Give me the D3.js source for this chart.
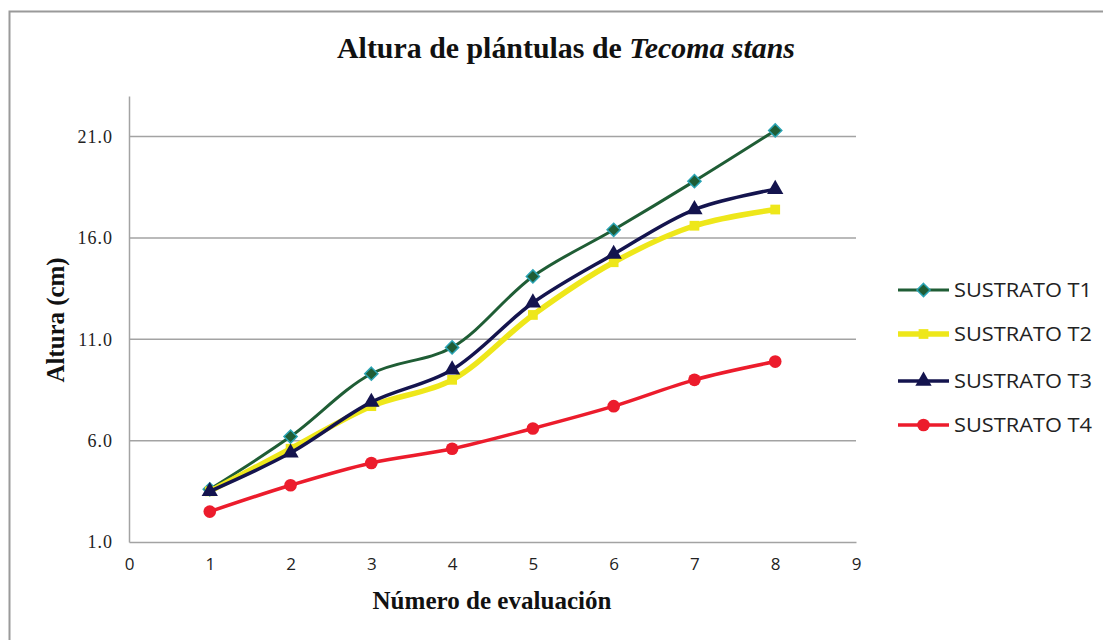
<!DOCTYPE html>
<html lang="es">
<head>
<meta charset="utf-8">
<script src="https://cdn.jsdelivr.net/npm/d3@7"></script>
<style>
  html, body { margin: 0; padding: 0; background: #fff; }
  svg { display: block; }
</style>
</head>
<body>
<svg id="chart" width="1103" height="640"></svg>
<script>
// Evaluation numbers (x) and heights per substrate (cm)
const evaluaciones = [1, 2, 3, 4, 5, 6, 7, 8];
const sustratoT1 = [3.6, 6.2, 9.3, 10.6, 14.1, 16.4, 18.8, 21.3];
const sustratoT2 = [3.5, 5.6, 7.7, 9.0, 12.2, 14.8, 16.6, 17.4];
const sustratoT3 = [3.5, 5.4, 7.9, 9.5, 12.8, 15.2, 17.4, 18.4];
const sustratoT4 = [2.5, 3.8, 4.9, 5.6, 6.6, 7.7, 9.0, 9.9];
const seriesNames = ["SUSTRATO T1", "SUSTRATO T2", "SUSTRATO T3", "SUSTRATO T4"];
const yTicks = [1, 6, 11, 16, 21];
const xTicks = [0, 1, 2, 3, 4, 5, 6, 7, 8, 9];

const series = [
  { name: seriesNames[0], values: sustratoT1, color: "#1f5d35", width: 3, marker: "diamond", fill: "#1f5d35", stroke: "#2aa3b3" },
  { name: seriesNames[1], values: sustratoT2, color: "#eee71a", width: 5.5, marker: "square", fill: "#eee71a", stroke: "none" },
  { name: seriesNames[2], values: sustratoT3, color: "#14144e", width: 3.5, marker: "triangle", fill: "#14144e", stroke: "none" },
  { name: seriesNames[3], values: sustratoT4, color: "#ec1c2c", width: 3.5, marker: "circle", fill: "#ec1c2c", stroke: "none" }
];

const svg = d3.select("#chart");
const serif = "'Liberation Serif', 'Times New Roman', serif";
const sans = "'Open Sans', 'Noto Sans', sans-serif";
const gridColor = "#a3a3a3";

// Outer chart frame
svg.append("rect")
  .attr("x", 9.5).attr("y", 11.5)
  .attr("width", 1120).attr("height", 660)
  .attr("fill", "none").attr("stroke", "#9a9a9a").attr("stroke-width", 2);

const x = d3.scaleLinear().domain([0, 9]).range([129, 856]);
const y = d3.scaleLinear().domain([1, 23]).range([542, 96]);

// Horizontal gridlines
svg.append("g")
  .selectAll("line")
  .data(yTicks.filter(d => d > 1))
  .join("line")
  .attr("x1", x(0)).attr("x2", x(9))
  .attr("y1", d => y(d)).attr("y2", d => y(d))
  .attr("stroke", gridColor).attr("stroke-width", 1.5);

// Y axis
const yAxis = svg.append("g")
  .attr("transform", `translate(${x(0)},0)`)
  .call(d3.axisLeft(y).tickValues(yTicks).tickFormat(d3.format(".1f")).tickSize(0).tickPadding(16));
yAxis.select(".domain").attr("stroke", gridColor).attr("stroke-width", 1.5);
yAxis.selectAll("text")
  .attr("font-family", serif).attr("font-size", 18).attr("fill", "#222")
  .attr("letter-spacing", 1);

// X axis
const xAxis = svg.append("g")
  .attr("transform", `translate(0,${y(1)})`)
  .call(d3.axisBottom(x).tickValues(xTicks).tickFormat(d3.format("d")).tickSize(0).tickPadding(16));
xAxis.select(".domain").attr("stroke", gridColor).attr("stroke-width", 1.5);
xAxis.selectAll("text")
  .attr("font-family", sans).attr("font-size", 17).attr("fill", "#222");

// Title
const title = svg.append("text")
  .attr("x", 566).attr("y", 58)
  .attr("text-anchor", "middle")
  .attr("font-family", serif).attr("font-weight", "bold").attr("font-size", 29)
  .attr("fill", "#111")
  .attr("textLength", 458).attr("lengthAdjust", "spacingAndGlyphs");
title.append("tspan").text("Altura de plántulas de ");
title.append("tspan").attr("font-style", "italic").text("Tecoma stans");

// Axis titles
svg.append("text")
  .attr("x", 492).attr("y", 609)
  .attr("text-anchor", "middle")
  .attr("font-family", serif).attr("font-weight", "bold").attr("font-size", 25)
  .attr("fill", "#111")
  .attr("textLength", 239).attr("lengthAdjust", "spacingAndGlyphs")
  .text("Número de evaluación");

svg.append("text")
  .attr("transform", "translate(64,320) rotate(-90)")
  .attr("text-anchor", "middle")
  .attr("font-family", serif).attr("font-weight", "bold").attr("font-size", 25)
  .attr("fill", "#111")
  .attr("textLength", 125).attr("lengthAdjust", "spacingAndGlyphs")
  .text("Altura  (cm)");

// Marker shapes
const symbolFor = {
  diamond: d3.symbol().type(d3.symbolDiamond2).size(110),
  square: d3.symbol().type(d3.symbolSquare).size(95),
  triangle: d3.symbol().type(d3.symbolTriangle).size(115),
  circle: d3.symbol().type(d3.symbolCircle).size(125)
};

function drawMarker(g, s, cx, cy) {
  g.append("path")
    .attr("d", symbolFor[s.marker]())
    .attr("transform", `translate(${cx},${cy})`)
    .attr("fill", s.fill)
    .attr("stroke", s.stroke)
    .attr("stroke-width", s.stroke === "none" ? 0 : 1.5);
}

const line = d3.line()
  .x((d, i) => x(evaluaciones[i]))
  .y(d => y(d))
  .curve(d3.curveCatmullRom.alpha(0.5));

const plot = svg.append("g");
series.forEach(s => {
  const g = plot.append("g");
  g.append("path")
    .attr("d", line(s.values))
    .attr("fill", "none")
    .attr("stroke", s.color)
    .attr("stroke-width", s.width)
    .attr("stroke-linejoin", "round");
  s.values.forEach((v, i) => drawMarker(g, s, x(evaluaciones[i]), y(v)));
});

// Legend
const legend = svg.append("g");
const legendRows = [290, 334, 381, 425];
series.forEach((s, i) => {
  const ly = legendRows[i];
  const g = legend.append("g");
  g.append("line")
    .attr("x1", 898).attr("x2", 949)
    .attr("y1", ly).attr("y2", ly)
    .attr("stroke", s.color).attr("stroke-width", s.width);
  drawMarker(g, s, 923.5, ly);
  g.append("text")
    .attr("x", 954).attr("y", ly).attr("dy", "0.36em")
    .attr("font-family", sans).attr("font-size", 19.5).attr("fill", "#222")
    .attr("textLength", 138).attr("lengthAdjust", "spacingAndGlyphs")
    .text(s.name);
});
</script>
</body>
</html>
